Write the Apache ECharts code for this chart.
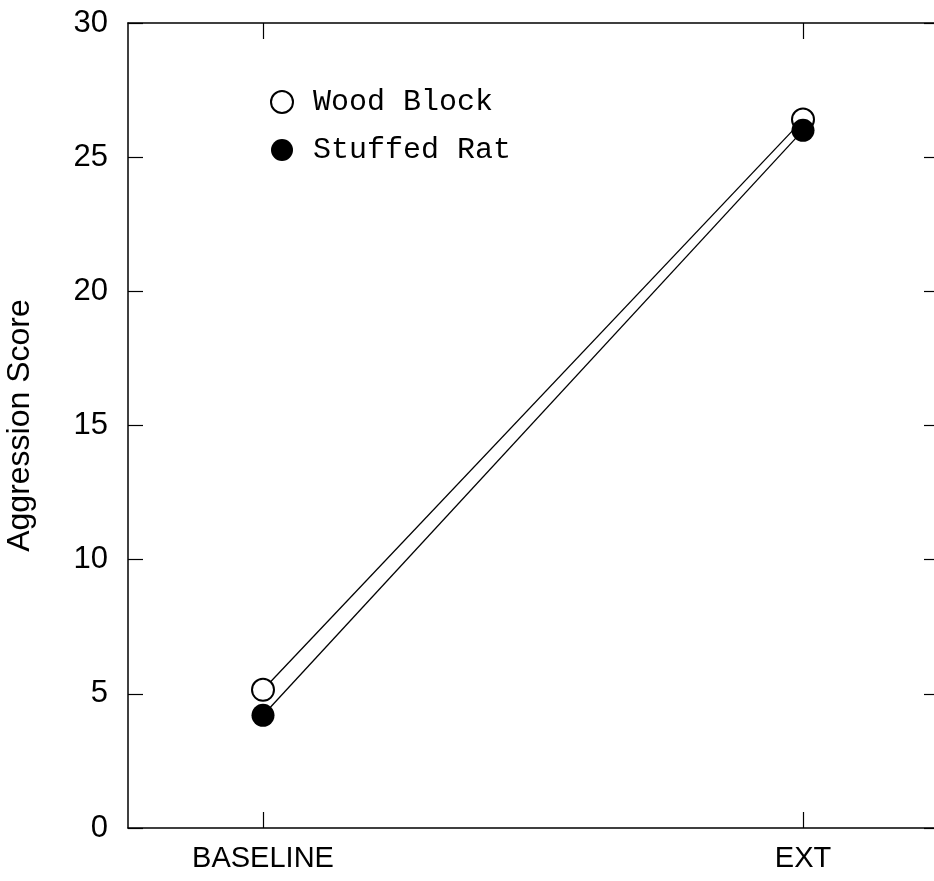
<!DOCTYPE html>
<html>
<head>
<meta charset="utf-8">
<script src="https://cdn.jsdelivr.net/npm/echarts@6/dist/echarts.min.js"></script>
<style>html,body{margin:0;padding:0;background:#fff}#c{width:934px;height:881px}</style>
</head>
<body>
<div id="c"></div>
<script>
const categories = ['BASELINE', 'EXT'];
const woodBlock = [5.15, 26.4];
const stuffedRat = [4.2, 26.0];
const yTicks = [0, 5, 10, 15, 20, 25, 30];
const seriesNames = ['Wood Block', 'Stuffed Rat'];

const chart = echarts.init(document.getElementById('c'));
const toPts = arr => arr.map((v, i) => [i, v]);
const catIdx = categories.map((c, i) => i);
const axisLineStyle = { show: true, onZero: false, lineStyle: { color: '#000', width: 1.5 } };

const option = {
  backgroundColor: '#fff',
  animation: false,
  grid: { left: 128, top: 23, width: 810, height: 805, containLabel: false, outerBoundsMode: 'none' },
  legend: {
    orient: 'vertical', left: 265, top: 82,
    itemWidth: 22, itemHeight: 22, itemGap: 18,
    data: seriesNames.map(n => ({ name: n, icon: 'circle' })),
    textStyle: { fontFamily: 'Liberation Mono', fontSize: 30, color: '#000', padding: [0, 0, 0, 15] }
  },
  xAxis: [
    {
      type: 'value', position: 'bottom', min: -0.25, max: 1.25,
      splitLine: { show: false },
      axisLine: axisLineStyle,
      axisTick: { show: true, inside: true, length: 16, customValues: catIdx, lineStyle: { color: '#000', width: 1.2 } },
      axisLabel: { customValues: catIdx, margin: 16, formatter: v => categories[Math.round(v)],
        fontFamily: 'Liberation Sans', fontSize: 29, color: '#000' }
    },
    {
      type: 'value', position: 'top', min: -0.25, max: 1.25,
      splitLine: { show: false },
      axisLine: axisLineStyle,
      axisTick: { show: true, inside: true, length: 16, customValues: catIdx, lineStyle: { color: '#000', width: 1.2 } },
      axisLabel: { show: false }
    }
  ],
  yAxis: [
    {
      type: 'value', position: 'left', min: 0, max: 30, interval: 5,
      name: 'Aggression Score', nameLocation: 'middle', nameGap: 92,
      nameTextStyle: { fontFamily: 'Liberation Sans', fontSize: 32, color: '#000' },
      splitLine: { show: false },
      axisLine: axisLineStyle,
      axisTick: { show: true, inside: true, length: 15, lineStyle: { color: '#000', width: 1.2 } },
      axisLabel: { margin: 20, formatter: v => yTicks.includes(v) ? String(v) : '',
        fontFamily: 'Liberation Sans', fontSize: 31, color: '#000' }
    },
    {
      type: 'value', position: 'right', min: 0, max: 30, interval: 5,
      splitLine: { show: false },
      axisLine: axisLineStyle,
      axisTick: { show: true, inside: true, length: 14, lineStyle: { color: '#000', width: 1.2 } },
      axisLabel: { show: false }
    }
  ],
  series: [
    {
      name: seriesNames[0], type: 'line', data: toPts(woodBlock),
      symbol: 'circle', symbolSize: 22,
      lineStyle: { color: '#000', width: 1.3 },
      itemStyle: { color: '#fff', borderColor: '#000', borderWidth: 2 },
      z: 2
    },
    {
      name: seriesNames[1], type: 'line', data: toPts(stuffedRat),
      symbol: 'circle', symbolSize: 23,
      lineStyle: { color: '#000', width: 1.3 },
      itemStyle: { color: '#000', borderColor: '#000', borderWidth: 0 },
      z: 3
    }
  ]
};
chart.setOption(option);
</script>
</body>
</html>
